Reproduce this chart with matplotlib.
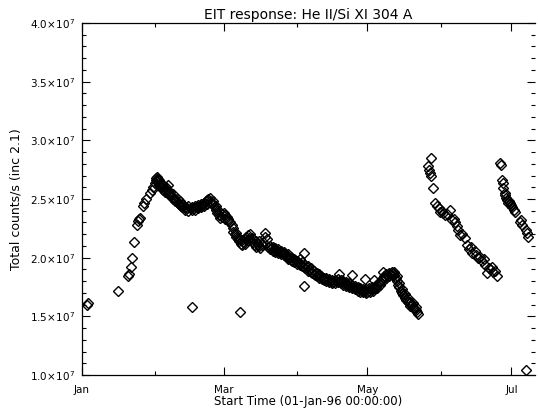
import matplotlib
matplotlib.use("Agg")
import matplotlib.pyplot as plt
from matplotlib.ticker import FixedLocator, MultipleLocator, FuncFormatter

# ---- data (day of year 1996, counts/s in units of 1e7) ----
days1 = [2.1, 2.6, 15.3, 19.5, 20.0, 20.8, 21.3, 22.2, 23.3, 23.6, 24.0, 24.4, 26.0, 26.4, 27.0,
         28.8, 29.5, 30.2, 31.0,
         31.4, 31.4, 31.8, 31.8, 32.3, 32.3, 32.8, 32.8, 33.3, 33.3, 33.8, 34.3, 34.3, 34.8,
         35.3, 35.3, 35.8, 36.5, 36.5, 36.5, 37.0, 37.5, 37.5, 38.0, 38.5, 38.5, 39.0, 39.5, 39.5,
         40.0, 40.5, 40.5, 41.0, 41.5, 41.5, 42.0, 42.5, 42.5, 43.0, 43.7, 43.7, 44.5, 45.0, 45.0,
         46.0, 46.7, 46.7, 47.5, 48.0, 48.0, 48.7, 49.3, 49.3, 50.0, 50.6, 50.6, 51.2, 51.8, 51.8,
         52.4, 53.0, 53.0, 53.6, 54.3, 54.3, 55.0, 55.6, 55.6, 56.2, 56.8, 56.8, 57.3, 57.9, 57.9,
         58.5, 59.2, 59.2, 60.0, 60.6, 60.6, 61.3, 62.0, 62.0, 62.8, 63.4, 64.0, 64.0, 64.7,
         65.3, 65.3, 66.0, 66.6, 66.6, 67.2, 67.8, 67.8, 68.4, 69.0, 69.0, 69.6, 70.2, 70.2, 70.8,
         71.4, 71.4, 72.0, 72.6, 72.6, 73.2, 73.8, 73.8, 74.4, 75.0, 75.0, 75.6, 76.2, 76.8,
         77.4, 77.4, 78.4, 79.0, 79.6, 79.6, 80.2, 80.8, 80.8, 81.4, 82.0, 82.0, 82.6, 83.2, 83.2,
         83.8, 84.4, 84.4, 85.0, 85.6, 85.6, 86.2, 86.8, 87.4, 87.4, 88.0, 88.6, 88.6, 89.2,
         89.8, 89.8, 90.4, 91.0, 91.0, 91.6, 92.2, 92.2, 92.8, 93.4, 93.4, 94.0, 94.2, 94.6, 94.6,
         95.2, 95.8, 95.8, 96.4, 97.0, 97.0, 97.6, 98.2, 98.2, 98.8, 99.4, 99.4, 100.0, 100.6,
         100.6, 101.2, 101.8, 102.4, 102.4, 103.0, 103.6, 103.6, 104.2, 104.8, 104.8, 105.4,
         106.0, 106.0, 106.6, 107.2, 107.2, 107.8, 108.4, 108.4, 108.8, 109.0, 109.6, 109.6,
         110.2, 110.8, 110.8, 111.4, 112.0, 112.0, 112.6, 113.2, 113.2, 113.8, 114.4, 114.4,
         114.4, 115.0, 115.6, 115.6, 116.2, 116.8, 116.8, 117.4, 118.0, 118.0, 118.6, 119.2,
         119.2, 119.8, 120.0, 120.4, 120.4, 121.0, 121.6, 121.6, 122.2, 122.8, 122.8, 123.4,
         123.6, 124.0, 124.0, 124.6, 125.2, 125.2, 125.8, 126.4, 126.4, 127.0, 127.6, 127.6,
         127.6, 128.2, 128.8, 128.8, 129.4, 130.0, 130.0, 130.6, 131.2, 131.2, 131.8, 132.4,
         132.4, 133.0, 133.5, 133.5, 134.0, 134.5, 134.5, 135.0, 135.6, 135.6, 136.2, 136.8,
         136.8, 137.4, 138.0, 138.0, 138.6, 139.2, 139.2, 139.8, 140.4, 140.4, 141.0, 141.6,
         141.6, 142.2, 142.6]
vals1 = [1.60, 1.61, 1.72, 1.84, 1.86, 1.92, 2.00, 2.13, 2.28, 2.31, 2.33, 2.34, 2.44, 2.47, 2.50,
         2.55, 2.58, 2.60, 2.64,
         2.66, 2.68, 2.69, 2.65, 2.67, 2.64, 2.66, 2.62, 2.64, 2.60, 2.63, 2.61, 2.58, 2.60,
         2.58, 2.56, 2.60, 2.62, 2.57, 2.54, 2.55, 2.56, 2.53, 2.52, 2.54, 2.50, 2.51, 2.50, 2.48,
         2.49, 2.47, 2.50, 2.46, 2.48, 2.45, 2.44, 2.46, 2.43, 2.45, 2.43, 2.41, 2.42, 2.44, 2.40,
         2.42, 2.41, 2.43, 2.42, 2.44, 2.41, 2.43, 2.45, 2.42, 2.44, 2.46, 2.43, 2.45, 2.47, 2.44,
         2.48, 2.46, 2.49, 2.50, 2.51, 2.48, 2.47, 2.45, 2.48, 2.43, 2.41, 2.44, 2.38, 2.36, 2.40,
         2.34, 2.37, 2.35, 2.38, 2.36, 2.33, 2.35, 2.33, 2.31, 2.30, 2.28, 2.25, 2.22, 2.20,
         2.18, 2.21, 2.16, 2.14, 2.17, 2.12, 2.15, 2.11, 2.13, 2.16, 2.12, 2.18, 2.15, 2.19, 2.17,
         2.20, 2.15, 2.17, 2.13, 2.16, 2.11, 2.14, 2.09, 2.12, 2.10, 2.14, 2.08, 2.11, 2.13,
         2.18, 2.21, 2.16, 2.09, 2.07, 2.10, 2.08, 2.06, 2.09, 2.07, 2.05, 2.08, 2.06, 2.04, 2.07,
         2.05, 2.03, 2.06, 2.04, 2.02, 2.05, 2.03, 2.01, 2.03, 1.99, 2.00, 1.98, 2.01, 1.97,
         1.99, 1.96, 1.98, 1.95, 1.97, 1.96, 1.94, 1.99, 1.95, 1.93, 1.96, 1.92, 2.04, 1.94, 1.91,
         1.92, 1.89, 1.93, 1.90, 1.88, 1.91, 1.87, 1.89, 1.86, 1.85, 1.87, 1.84, 1.85, 1.83,
         1.86, 1.84, 1.82, 1.83, 1.81, 1.82, 1.80, 1.83, 1.81, 1.79, 1.82, 1.80,
         1.78, 1.81, 1.79, 1.81, 1.78, 1.80, 1.79, 1.82, 1.86, 1.80, 1.78, 1.81,
         1.79, 1.77, 1.80, 1.78, 1.76, 1.79, 1.77, 1.75, 1.78, 1.76, 1.74, 1.77,
         1.85, 1.75, 1.73, 1.76, 1.74, 1.72, 1.75, 1.73, 1.71, 1.74, 1.72, 1.71,
         1.73, 1.72, 1.82, 1.70, 1.73, 1.71, 1.72, 1.74, 1.71, 1.73, 1.75, 1.72,
         1.81, 1.74, 1.76, 1.75, 1.77, 1.74, 1.78, 1.80, 1.77, 1.81, 1.83, 1.80,
         1.88, 1.84, 1.86, 1.83, 1.85, 1.87, 1.84, 1.86, 1.88, 1.85, 1.87, 1.85,
         1.88, 1.83, 1.80, 1.84, 1.77, 1.75, 1.78, 1.72, 1.70, 1.73, 1.68, 1.66,
         1.69, 1.64, 1.62, 1.66, 1.61, 1.59, 1.62, 1.60, 1.57, 1.61, 1.56, 1.58,
         1.55, 1.54, 1.52]

days2 = [146.8, 147.2, 147.6, 147.9, 148.1, 148.9, 149.8, 150.6, 151.2, 151.9, 152.5, 153.2,
         154.0, 154.6, 156.1, 157.0, 157.6, 158.3, 159.0, 159.5, 160.4, 161.2, 162.5, 163.3,
         164.2, 165.0, 165.5, 166.4, 167.2, 168.0, 168.8, 169.7, 170.4, 171.0, 171.7, 172.3,
         173.1, 173.8, 174.4, 175.2, 175.9]
vals2 = [2.78, 2.75, 2.72, 2.85, 2.70, 2.59, 2.47, 2.44, 2.42, 2.39, 2.40, 2.38,
         2.36, 2.37, 2.41, 2.32, 2.33, 2.30, 2.27, 2.24, 2.19, 2.20, 2.17, 2.11,
         2.07, 2.09, 2.04, 2.06, 2.02, 2.00, 2.01, 1.97, 1.99, 1.94, 1.87, 1.91,
         1.90, 1.92, 1.88, 1.89, 1.84]

days3 = [177.3, 177.6, 178.0, 178.4, 178.6, 179.2, 179.5, 179.9, 180.3, 180.7, 181.1, 181.6,
         182.0, 182.4, 183.0, 183.7, 185.8, 186.2, 186.7, 188.0, 188.8, 189.2]
vals3 = [2.81, 2.79, 2.66, 2.64, 2.59, 2.55, 2.53, 2.51, 2.49, 2.47, 2.48, 2.47,
         2.45, 2.43, 2.41, 2.39, 2.30, 2.32, 2.28, 2.24, 2.21, 2.18]

days_out = [46.7, 67.0, 94.0, 188.4]
vals_out = [1.58, 1.54, 1.76, 1.04]

month_ticks = [0, 60, 121, 182]
month_labels = ["Jan", "Mar", "May", "Jul"]
minor_month_ticks = [31, 91, 152]

title = "EIT response: He II/Si XI 304 A"
xlabel = "Start Time (01-Jan-96 00:00:00)"
ylabel = "Total counts/s (inc 2.1)"

# ---- plot ----
plt.rcParams['font.family'] = ['DejaVu Sans']
fig = plt.figure(figsize=(5.38, 4.17), dpi=100)
ax = fig.add_axes([0.1524, 0.1007, 0.8420, 0.8441])

all_d = days1 + days2 + days3 + days_out
all_v = vals1 + vals2 + vals3 + vals_out
ax.plot(all_d, [v * 1e7 for v in all_v], linestyle='none', marker='D', markersize=4.8,
        markerfacecolor='none', markeredgecolor='black', markeredgewidth=1.0)

ax.set_xlim(0, 192)
ax.set_ylim(1.0e7, 4.0e7)

ax.xaxis.set_major_locator(FixedLocator(month_ticks))
ax.set_xticklabels(month_labels)
ax.xaxis.set_minor_locator(FixedLocator(minor_month_ticks))
ax.yaxis.set_major_locator(MultipleLocator(0.5e7))
ax.yaxis.set_minor_locator(MultipleLocator(0.1e7))


def yfmt(v, pos):
    return r"$%.1f\!\times\!10^{7}$" % (v / 1e7)


ax.yaxis.set_major_formatter(FuncFormatter(yfmt))

ax.tick_params(which='both', direction='in', top=True, right=True, labelsize=7.5, width=0.8)
ax.tick_params(which='major', length=6, pad=5)
ax.tick_params(which='minor', length=3)
ax.tick_params(axis='x', which='major', pad=7)

for side in ['left', 'bottom', 'top']:
    ax.spines[side].set_linewidth(0.9)
ax.spines['right'].set_visible(False)

ax.set_title(title, fontsize=10, pad=3)
ax.set_xlabel(xlabel, fontsize=8.5, labelpad=0)
ax.set_ylabel(ylabel, fontsize=9, labelpad=5)

fig.savefig("out.png", dpi=100)
